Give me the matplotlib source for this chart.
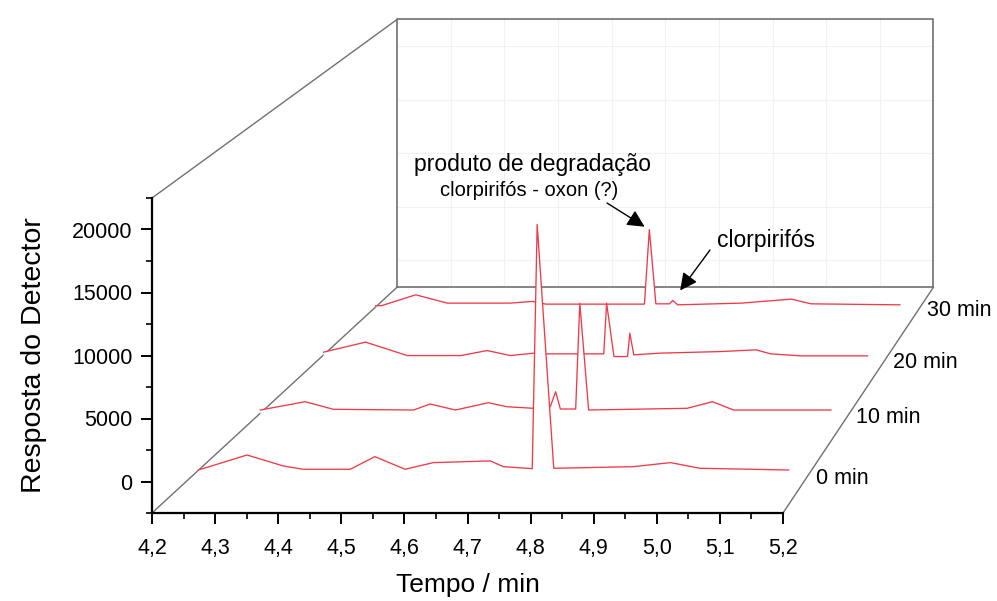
import matplotlib
matplotlib.use("Agg")
import matplotlib.pyplot as plt
import numpy as np
from matplotlib.ticker import MultipleLocator, FuncFormatter


plt.rcParams["font.family"] = ["Liberation Sans", "DejaVu Sans"]

# chromatograms: retention time (min) and detector response above the floor
time_0 = [4.207, 4.286, 4.345, 4.377, 4.454, 4.494, 4.543, 4.589, 4.682,
          4.703, 4.750, 4.758, 4.785, 4.914, 4.975, 5.023, 5.167]
resp_0 = [340, 1560, 670, 400, 400, 1430, 400, 940, 1080,
          610, 450, 20350, 480, 610, 940, 480, 340]

time_10 = [4.201, 4.277, 4.325, 4.461, 4.489, 4.532, 4.588, 4.619, 4.665,
           4.693, 4.702, 4.710, 4.736, 4.743, 4.758, 4.925, 4.968, 5.004, 5.169]
resp_10 = [315, 1020, 375, 315, 825, 315, 935, 595, 460,
           595, 1870, 400, 400, 9390, 315, 460, 1020, 315, 315]

time_20 = [4.206, 4.280, 4.354, 4.448, 4.495, 4.536, 4.577, 4.598, 4.701,
           4.706, 4.719, 4.743, 4.747, 4.754, 4.800, 4.908, 4.970, 4.996,
           5.049, 5.167]
resp_20 = [520, 1410, 220, 220, 665, 220, 435, 372, 372,
           4860, 133, 133, 2200, 283, 434, 576, 727, 372,
           195, 195]

time_30 = [4.199, 4.211, 4.273, 4.331, 4.447, 4.487, 4.512, 4.693, 4.702,
           4.714, 4.739, 4.745, 4.754, 4.871, 4.963, 4.999, 5.162]
resp_30 = [74, 101, 1088, 323, 323, 480, 230, 230, 7080,
           258, 258, 562, 166, 323, 691, 258, 166]

SERIES_TIME = [time_0, time_10, time_20, time_30]
SERIES_RESP = [resp_0, resp_10, resp_20, resp_30]
SERIES_DEPTH = [0, 10, 20, 30]
SERIES_LABELS = ["0 min", "10 min", "20 min", "30 min"]

T_MIN, T_MAX = 4.2, 5.2
Y_MIN, Y_MAX = -2500, 22500
Z_MIN, Z_MAX = -6, 34

# perspective of the box: back plane is 85 % of the front plane
BACK_SCALE = 0.85
VANISH_T = 6.79
VANISH_Y = 117000

TRACE_COLOR = "#ef3a48"
BOX_COLOR = "#707070"


def project(t, y, z):
    """Map (time, response, depth) onto the front plane of the axes."""
    t = np.asarray(t, dtype=float)
    y = np.asarray(y, dtype=float)
    d = (z - Z_MIN) / (Z_MAX - Z_MIN)
    s = 1.0 / (1.0 + (1.0 / BACK_SCALE - 1.0) * d)
    return VANISH_T + s * (t - VANISH_T), VANISH_Y + s * (y - VANISH_Y)


def box_line(ax, pts, **kw):
    xs, ys = zip(*[project(t, y, z) for t, y, z in pts])
    ax.plot(xs, ys, clip_on=False, **kw)


def comma(v, _pos):
    return f"{v:.1f}".replace(".", ",")


fig = plt.figure(figsize=(9.97, 6.01), dpi=100)
ax = fig.add_axes([152 / 997, 88 / 601, 631 / 997, 315 / 601])
ax.set_xlim(T_MIN, T_MAX)
ax.set_ylim(Y_MIN, Y_MAX)
ax.patch.set_visible(False)

# faint grid on the back wall
for t in np.arange(4.3, 5.15, 0.1):
    box_line(ax, [(t, Y_MIN, Z_MAX), (t, Y_MAX, Z_MAX)],
             color="#f1f1f1", lw=0.8, zorder=0.5)
for y in range(0, 22500, 5000):
    box_line(ax, [(T_MIN, y, Z_MAX), (T_MAX, y, Z_MAX)],
             color="#f1f1f1", lw=0.8, zorder=0.5)

# back wall and the depth edges
box_line(ax, [(T_MIN, Y_MIN, Z_MAX), (T_MAX, Y_MIN, Z_MAX),
              (T_MAX, Y_MAX, Z_MAX), (T_MIN, Y_MAX, Z_MAX),
              (T_MIN, Y_MIN, Z_MAX)], color=BOX_COLOR, lw=1.2, zorder=1)
for t, y in [(T_MIN, Y_MAX), (T_MIN, Y_MIN), (T_MAX, Y_MIN)]:
    box_line(ax, [(t, y, Z_MIN), (t, y, Z_MAX)],
             color=BOX_COLOR, lw=1.0, zorder=1)

# chromatograms from back to front; white fill hides what lies behind
order = sorted(range(len(SERIES_DEPTH)), key=lambda i: -SERIES_DEPTH[i])
for rank, i in enumerate(order):
    z = SERIES_DEPTH[i]
    t = np.asarray(SERIES_TIME[i])
    r = np.asarray(SERIES_RESP[i])
    tx, ty = project(t, Y_MIN + r, z)
    fx, fy = project(t, np.full_like(t, Y_MIN), z)
    ax.fill(np.r_[tx, fx[::-1]], np.r_[ty, fy[::-1]], color="white",
            lw=0, zorder=3 + 2 * rank, clip_on=False)
    ax.plot(tx, ty, color=TRACE_COLOR, lw=0.95, zorder=4 + 2 * rank,
            clip_on=False)

    lx, ly = project(T_MAX, Y_MIN, z)
    ax.annotate(SERIES_LABELS[i], xy=(float(lx), float(ly)),
                xytext=(5, -3), textcoords="offset points",
                ha="left", va="center", fontsize=15.5,
                annotation_clip=False)

# peak annotations on the 30 min chromatogram
t30 = np.asarray(time_30)
r30 = np.asarray(resp_30)
k_oxon = int(np.argmax(r30))
window = (t30 > 4.73) & (t30 < 4.76)
k_clor = int(np.flatnonzero(window)[np.argmax(r30[window])])
oxon_xy = [float(v) for v in project(t30[k_oxon], Y_MIN + r30[k_oxon], 30)]
clor_xy = [float(v) for v in project(t30[k_clor], Y_MIN + r30[k_clor], 30)]

arrow = dict(arrowstyle="-|>", color="black", lw=1.0, mutation_scale=26,
             shrinkA=0)
ax.annotate("", xy=oxon_xy, xytext=(607 / 997, 1 - 203 / 601),
            textcoords="figure fraction", annotation_clip=False,
            arrowprops=dict(arrow, shrinkB=4), zorder=20)
ax.annotate("", xy=clor_xy, xytext=(710 / 997, 1 - 250 / 601),
            textcoords="figure fraction", annotation_clip=False,
            arrowprops=dict(arrow, shrinkB=9), zorder=20)

fig.text(532 / 997, 1 - 164 / 601, "produto de degradação",
         ha="center", va="center", fontsize=16.5)
fig.text(529 / 997, 1 - 191 / 601, "clorpirifós - oxon (?)",
         ha="center", va="center", fontsize=14.5)
fig.text(766 / 997, 1 - 240 / 601, "clorpirifós",
         ha="center", va="center", fontsize=16.5)

# front axes
for side in ("top", "right"):
    ax.spines[side].set_visible(False)
for side in ("left", "bottom"):
    ax.spines[side].set_linewidth(1.6)
    ax.spines[side].set_zorder(30)

ax.xaxis.set_major_locator(MultipleLocator(0.1))
ax.xaxis.set_minor_locator(MultipleLocator(0.05))
ax.xaxis.set_major_formatter(FuncFormatter(comma))
ax.yaxis.set_major_locator(MultipleLocator(5000))
ax.yaxis.set_minor_locator(MultipleLocator(2500))
ax.tick_params(which="major", direction="out", length=8, width=1.4,
               labelsize=15.5, pad=6)
ax.tick_params(which="minor", direction="out", length=4.5, width=1.2)
ax.tick_params(axis="x", which="major", pad=10)

ax.set_xlabel("Tempo / min", fontsize=19, labelpad=10)
ax.set_ylabel("Resposta do Detector", fontsize=20.5, labelpad=18)

fig.savefig("out.png", dpi=100)
